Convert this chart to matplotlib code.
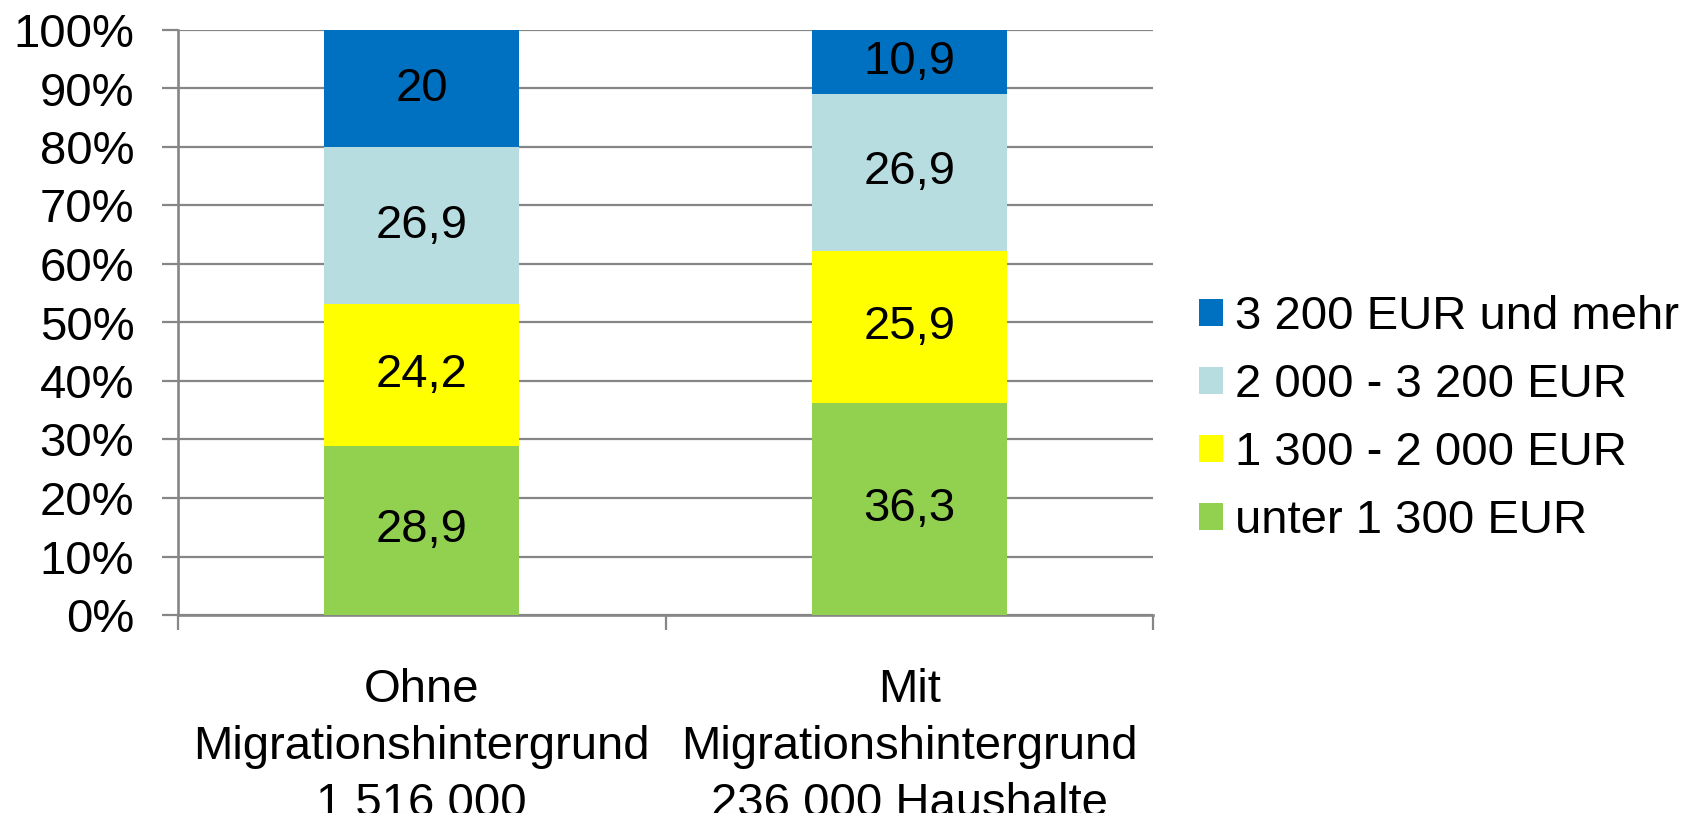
import numpy as np
import matplotlib
matplotlib.use('Agg')
import matplotlib.pyplot as plt
from matplotlib.ticker import FixedLocator, PercentFormatter

plt.rcParams['font.family'] = ['Liberation Sans', 'DejaVu Sans']

# Daten: Anteile der Haushalte nach Nettoeinkommen (in %)
kategorien = ['Ohne\nMigrationshintergrund\n1 516 000',
              'Mit\nMigrationshintergrund\n236 000 Haushalte']
klassen = ['unter 1 300 EUR', '1 300 - 2 000 EUR',
           '2 000 - 3 200 EUR', '3 200 EUR und mehr']
unter_1300 = [28.9, 36.3]
von_1300_2000 = [24.2, 25.9]
von_2000_3200 = [26.9, 26.9]
ab_3200 = [20.0, 10.9]
beschriftung = [['28,9', '36,3'], ['24,2', '25,9'],
                ['26,9', '26,9'], ['20', '10,9']]
farben = ['#92D050', '#FFFF00', '#B7DDE1', '#0070C0']

reihen = np.array([unter_1300, von_1300_2000, von_2000_3200, ab_3200])
anteile = reihen / reihen.sum(axis=0) * 100

grau = '#868686'
fs = 34

fig = plt.figure(figsize=(16.97, 8.13), dpi=100)
ax = fig.add_axes([178 / 1697, 198 / 813, 975 / 1697, 585 / 813])

x = np.arange(len(kategorien))
unten = np.zeros(len(kategorien))
balken = []
for i, werte in enumerate(anteile):
    b = ax.bar(x, werte, bottom=unten, width=0.4, color=farben[i],
               label=klassen[i], zorder=3)
    balken.append(b)
    for j in range(len(x)):
        ax.text(x[j], unten[j] + werte[j] / 2, beschriftung[i][j],
                ha='center', va='center', fontsize=fs, zorder=4)
    unten += werte

ax.set_xlim(-0.5, 1.5)
ax.set_ylim(0, 100)
ax.yaxis.set_major_locator(FixedLocator(np.arange(0, 101, 10)))
ax.yaxis.set_major_formatter(PercentFormatter(decimals=0))
ax.grid(axis='y', color=grau, linewidth=1.6, zorder=0)
ax.tick_params(axis='y', length=11.5, width=1.6, color=grau,
               labelsize=fs, pad=20)

ax.set_xticks(x)
ax.set_xticklabels(kategorien, fontsize=fs, linespacing=1.38)
ax.xaxis.set_minor_locator(FixedLocator([-0.5, 0.5, 1.5]))
ax.tick_params(axis='x', which='major', length=0, pad=38)
ax.tick_params(axis='x', which='minor', length=11, width=1.6, color=grau)

for s in ['top', 'right']:
    ax.spines[s].set_visible(False)
for s in ['left', 'bottom']:
    ax.spines[s].set_color(grau)
    ax.spines[s].set_linewidth(1.9)

handles = balken[::-1]
fig.legend(handles, klassen[::-1], loc='center left',
           bbox_to_anchor=(1199 / 1697, (813 - 419) / 813),
           frameon=False, fontsize=fs, borderpad=0, borderaxespad=0,
           handlelength=0.5, handleheight=0.5, handletextpad=0.27,
           labelspacing=0.51)

fig.savefig('out.png', dpi=100)
